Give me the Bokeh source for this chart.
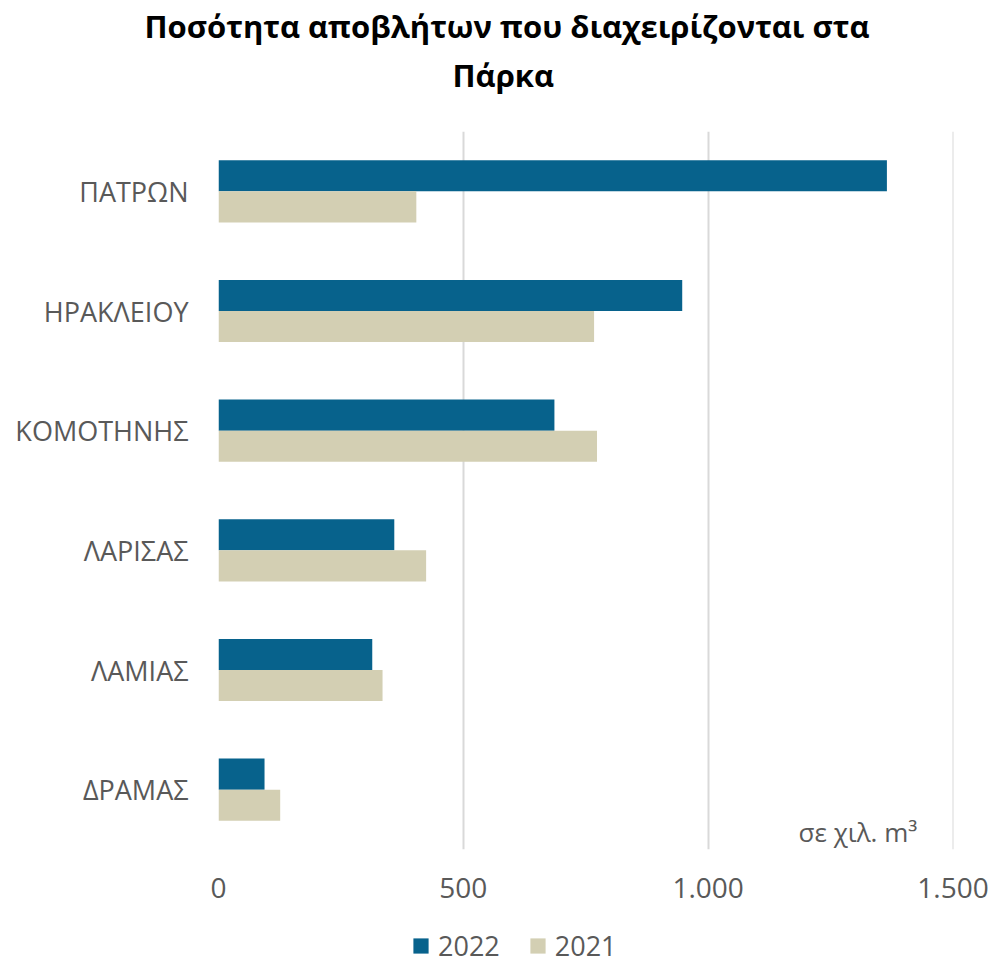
from bokeh.plotting import figure
from bokeh.models import (FactorRange, Range1d, FixedTicker, Label, Legend, LegendItem,
                          ColumnDataSource, Title)
from bokeh.layouts import column
from bokeh.transform import dodge
from bokeh.embed import file_html
from bokeh.resources import INLINE

cities = ["ΠΑΤΡΩΝ", "ΗΡΑΚΛΕΙΟΥ", "ΚΟΜΟΤΗΝΗΣ", "ΛΑΡΙΣΑΣ", "ΛΑΜΙΑΣ", "ΔΡΑΜΑΣ"]
v2022 = [1365, 947, 686, 359, 314, 94]
v2021 = [404, 767, 773, 424, 335, 126]
series_names = ["2022", "2021"]
ticks = [0, 500, 1000, 1500]
tick_labels = ["0", "500", "1.000", "1.500"]
title_lines = ["Ποσότητα αποβλήτων που διαχειρίζονται στα", "Πάρκα"]
unit_text = "σε χιλ. m³"

FONT = "Open Sans"
GREY = "#595959"
C22 = "#07628c"
C21 = "#d3cfb3"

src = ColumnDataSource(dict(city=cities, v2022=v2022, v2021=v2021))
p = figure(frame_width=735, frame_height=718, output_backend="svg", toolbar_location=None,
           title=None,
           y_range=FactorRange(factors=list(reversed(cities))),
           x_range=Range1d(0, 1501),
           min_border_left=218, min_border_right=40, min_border_top=131,
           min_border_bottom=72)
p.outline_line_color = None

r1 = p.hbar(y=dodge("city", 0.13, range=p.y_range), right="v2022", left=0, height=0.26,
            source=src, fill_color=C22, line_color=None)
r2 = p.hbar(y=dodge("city", -0.13, range=p.y_range), right="v2021", left=0, height=0.26,
            source=src, fill_color=C21, line_color=None)

p.xaxis.ticker = FixedTicker(ticks=ticks)
p.xaxis.major_label_overrides = {t: l for t, l in zip(ticks, tick_labels)}
for ax in (p.xaxis[0], p.yaxis[0]):
    ax.axis_line_color = None
    ax.major_tick_line_color = None
    ax.minor_tick_line_color = None
    ax.major_tick_out = 0
    ax.major_label_text_font = FONT
    ax.major_label_text_color = GREY
p.xaxis.major_label_text_font_size = "28px"
p.yaxis.major_label_text_font_size = "27px"
p.xaxis.major_label_standoff = 28
p.yaxis.major_label_standoff = 30

p.ygrid.grid_line_color = None
p.xgrid.grid_line_color = "#d9d9d9"
p.xgrid.grid_line_width = 2

p.add_layout(Label(x=1427, y=0.15, text=unit_text, text_align="right", text_baseline="middle",
                   text_font=FONT, text_font_size="26px", text_color=GREY))

# titles (spacer, second line, first line), stacked outward from the frame
p.add_layout(Title(text=" ", text_font_size="1px", standoff=30), "above")
p.add_layout(Title(text=title_lines[1], align="left", offset=234, standoff=6,
                   text_font=FONT, text_font_style="bold", text_font_size="31px",
                   text_color="black"), "above")
p.add_layout(Title(text=title_lines[0], align="left", offset=-74, standoff=4,
                   text_font=FONT, text_font_style="bold", text_font_size="31px",
                   text_color="black"), "above")

# legend block
foot = figure(width=989, height=43, output_backend="svg", toolbar_location=None,
              x_range=Range1d(0, 1501), y_range=Range1d(0, 43),
              min_border=0, x_axis_location=None, y_axis_location=None)
foot.outline_line_color = None
foot.grid.grid_line_color = None
d1 = foot.hbar(y=0, left=0, right=0, height=0, source=src, fill_color=C22, line_color=None)
d2 = foot.hbar(y=0, left=0, right=0, height=0, source=src, fill_color=C21, line_color=None)
legend = Legend(items=[LegendItem(label=series_names[0], renderers=[d1]),
                       LegendItem(label=series_names[1], renderers=[d2])],
                orientation="horizontal", location=(193, 0),
                label_text_font=FONT, label_text_font_size="27px", label_text_color=GREY,
                glyph_width=19, glyph_height=19, border_line_color=None,
                background_fill_alpha=0, spacing=28, label_standoff=8,
                padding=0, margin=0)
foot.add_layout(legend)

layout = column(p, foot, spacing=0)
open("out.html", "w").write(file_html(layout, INLINE))
